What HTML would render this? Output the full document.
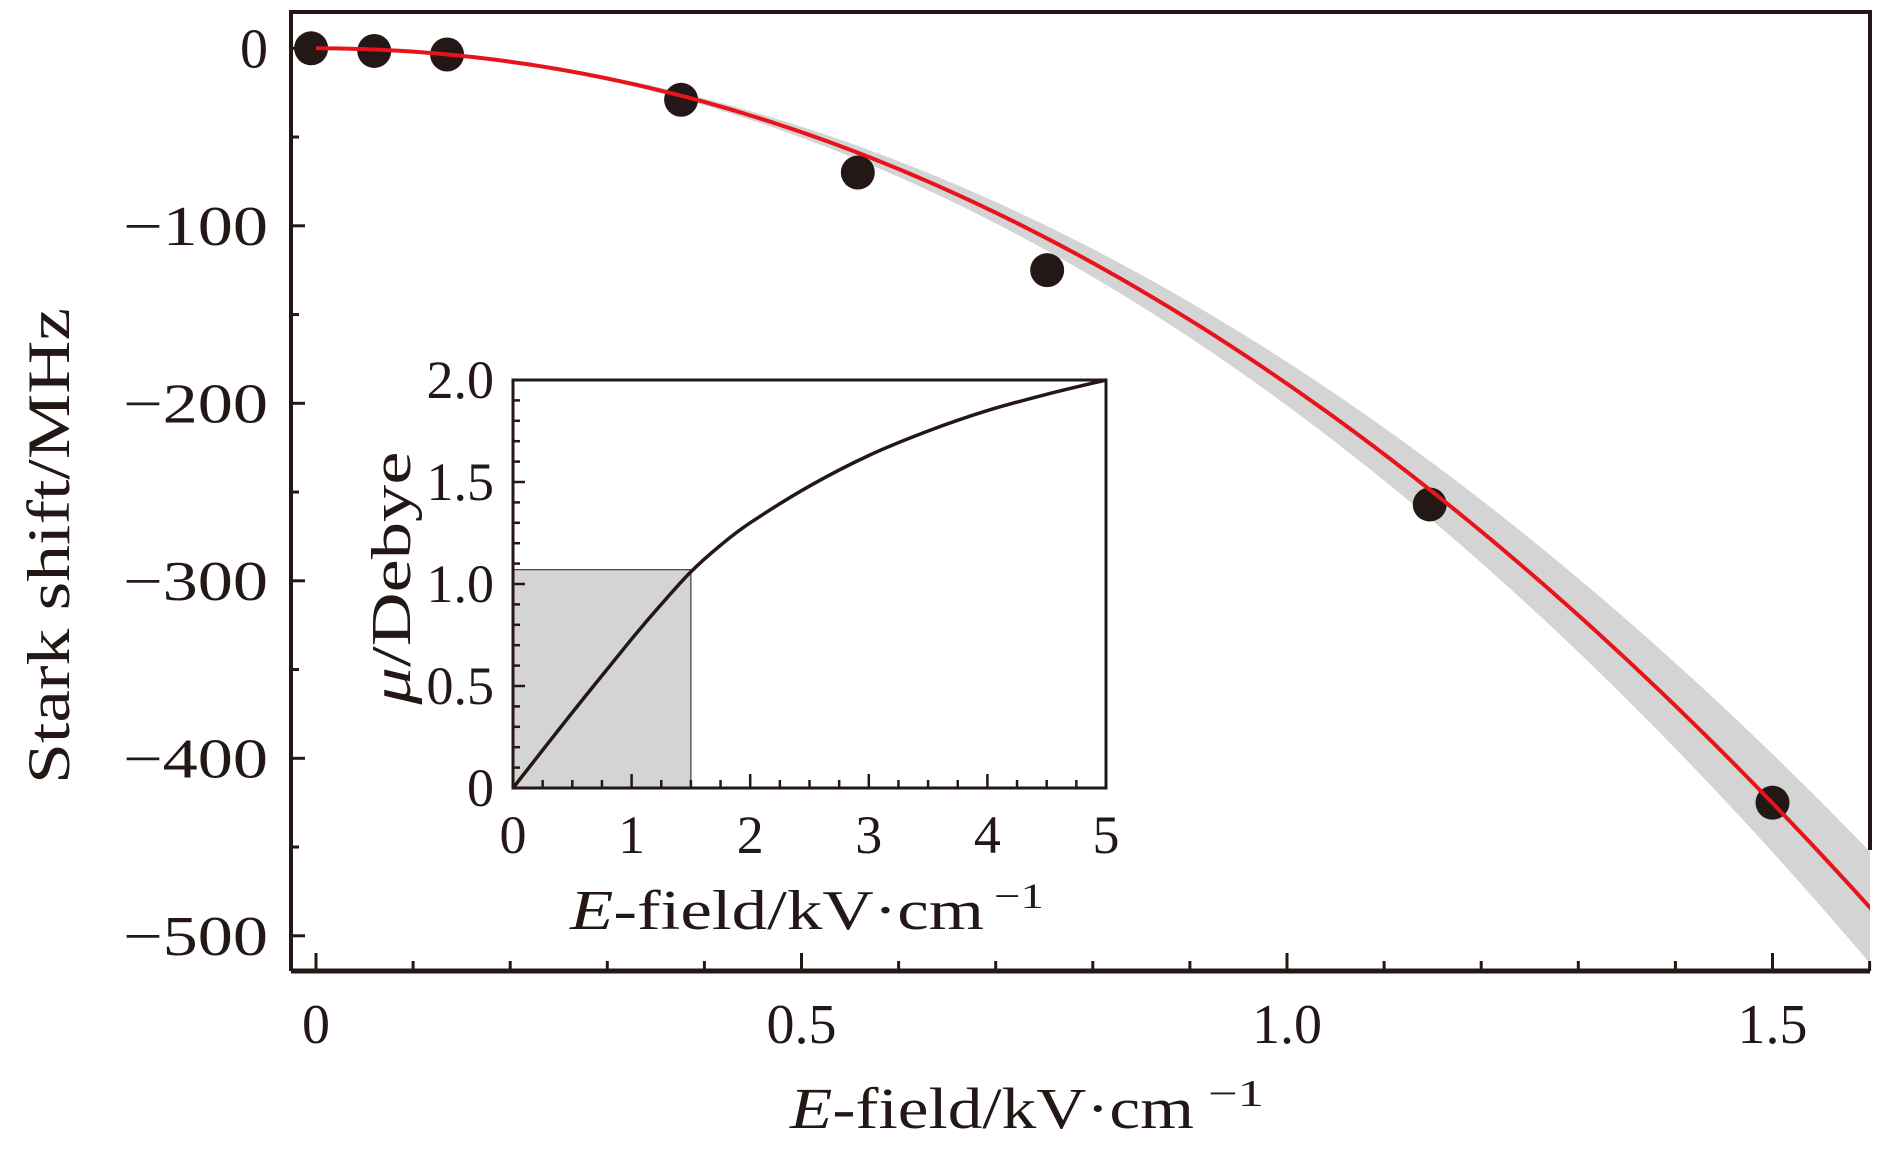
<!DOCTYPE html>
<html><head><meta charset="utf-8"><style>
body{margin:0;background:#fff;}
svg{display:block;font-family:"Liberation Serif",serif;}
</style></head><body>
<svg id="chart" width="1890" height="1158" viewBox="0 0 1890 1158">
<defs><clipPath id="mainClip"><rect x="291" y="12" width="1579" height="959"/></clipPath></defs>
<g id="main"></g>
<g id="inset"></g>
</svg>
<script>
// main chart data
const mainXTicks = [0, 0.5, 1.0, 1.5];
const mainXTickLabels = ["0", "0.5", "1.0", "1.5"];
const mainYTicks = [0, -100, -200, -300, -400, -500];
const mainYTickLabels = ["0", "\u2212100", "\u2212200", "\u2212300", "\u2212400", "\u2212500"];
const fieldValues = [-0.005, 0.06, 0.135, 0.376, 0.558, 0.753, 1.147, 1.5];
const shiftValues = [0, -1.5, -3.5, -29, -70, -125, -257, -425];
const fitCoeff = [-189];          // shift = a * E^2
const bandFraction = [0.065];     // relative uncertainty band
// inset data
const insetXTicks = [0, 1, 2, 3, 4, 5];
const insetYTicks = [0, 0.5, 1.0, 1.5, 2.0];
const insetYTickLabels = ["0", "0.5", "1.0", "1.5", "2.0"];
const insetField = [0, 0.5, 1, 1.25, 1.5, 1.75, 2, 2.5, 3, 3.5, 4, 4.5, 5];
const insetDipole = [0, 0.37, 0.73, 0.90, 1.06, 1.19, 1.30, 1.48, 1.63, 1.75, 1.85, 1.93, 2.0];
const insetShade = [1.5, 1.07];

const NS = "http://www.w3.org/2000/svg";
function mk(parent, tag, attrs, text){
  const e = document.createElementNS(NS, tag);
  for (const k in attrs) e.setAttribute(k, attrs[k]);
  if (text !== undefined) e.textContent = text;
  parent.appendChild(e);
  return e;
}
const INK = '#231816';
// main axes
const L=291, T=12, R=1870, B=971;
const X0=316, XU=971, Y0=48.3, YU=1.775;
const mx = v => X0 + v*XU;
const my = v => Y0 - v*YU;
const main = document.getElementById('main');

// band
let up=[], lo=[];
const fitX=[]; for(let i=0;i<=162;i++) fitX.push(i/100);
fitX.forEach(x=>{const f=fitCoeff[0]*x*x; up.push(mx(x)+','+my(f*(1-bandFraction[0]))); lo.push(mx(x)+','+my(f*(1+bandFraction[0])));});
let band = mk(main,'polygon',{points:up.concat(lo.reverse()).join(' '),fill:'#d4d4d4','clip-path':'url(#mainClip)'});



// frame
let fr = mk(main,'path',{d:`M${L},${B} L${L},${T} L${R},${T} L${R},850`,fill:'none',stroke:INK,'stroke-width':4});


let xa = mk(main,'line',{x1:L,y1:B,x2:R,y2:B,stroke:INK,'stroke-width':5});



// x ticks
for(let i=0;i<=16;i++){const v=i/10; const x=mx(v); const major=(i%5===0);
  const t=mk(main,'line',{x1:x,y1:B,x2:x,y2:B-(major?18:10),stroke:INK,'stroke-width':3});
  
  
}
mainXTicks.forEach((v,i)=>{const t=mk(main,'text',{x:mx(v),y:1043,'font-size':56,'text-anchor':'middle',fill:INK},mainXTickLabels[i]);
  
  });
// y ticks
for(let v=0; v>=-500; v-=50){const y=my(v); const major=(v%100===0);
  const t=mk(main,'line',{x1:L,y1:y,x2:L+(major?14:8),y2:y,stroke:INK,'stroke-width':3});
  
  
}
mainYTicks.forEach((v,i)=>{const a={x:268,y:my(v)+19,'font-size':56,'text-anchor':'end',fill:INK};
  if(mainYTickLabels[i].length>1){a.textLength=145;a.lengthAdjust='spacingAndGlyphs';}
  const t=mk(main,'text',a,mainYTickLabels[i]);
  
  });

// fit curve
const fitPts = fitX.map(x=>mx(x)+','+my(fitCoeff[0]*x*x));
let fc = mk(main,'polyline',{points:fitPts.join(' '),fill:'none',stroke:'#e8141c','stroke-width':4,'clip-path':'url(#mainClip)'});


// points
fieldValues.forEach((v,i)=>{const c=mk(main,'circle',{cx:mx(v),cy:my(shiftValues[i]),r:17,fill:INK});
  
  });
main.appendChild(fc);

let xt = mk(main,'text',{x:790,y:1128,'font-size':58,fill:INK,textLength:404,lengthAdjust:'spacingAndGlyphs'});


xt.innerHTML='<tspan font-style="italic">E</tspan>-field/kV·cm';
let xs = mk(main,'text',{x:1208,y:1106,'font-size':38,fill:INK,textLength:56,lengthAdjust:'spacingAndGlyphs'},'−1');


let yt = mk(main,'text',{x:0,y:0,'font-size':60,'text-anchor':'middle',fill:INK,textLength:476,lengthAdjust:'spacingAndGlyphs',transform:'translate(69,546) rotate(-90)'},'Stark shift/MHz');



// inset
const IL=513, IT=380, IR=1106, IB=788;
const ix = v => IL + v*(IR-IL)/5;
const iy = v => IB - v*(IB-IT)/2;
const inset = document.getElementById('inset');
let sh = mk(inset,'rect',{x:ix(0),y:iy(insetShade[1]),width:ix(insetShade[0])-ix(0),height:iy(0)-iy(insetShade[1]),fill:'#d4d4d4',stroke:INK,'stroke-width':1});


let ib = mk(inset,'rect',{x:IL,y:IT,width:IR-IL,height:IB-IT,fill:'none',stroke:INK,'stroke-width':3});


for(let i=0;i<=20;i++){const x=ix(i/4); const major=(i%4===0);
  const t=mk(inset,'line',{x1:x,y1:IB,x2:x,y2:IB-(major?14:8),stroke:INK,'stroke-width':2.5});
  
  }
for(let i=0;i<=20;i++){const y=iy(i/10); const major=(i%5===0);
  const t=mk(inset,'line',{x1:IL,y1:y,x2:IL+(major?12:7),y2:y,stroke:INK,'stroke-width':2.5});
  
  }
insetXTicks.forEach(v=>{const t=mk(inset,'text',{x:ix(v),y:853,'font-size':54,'text-anchor':'middle',fill:INK},String(v));
  
  });
insetYTicks.forEach((v,i)=>{const t=mk(inset,'text',{x:494,y:iy(v)+18,'font-size':54,'text-anchor':'end',fill:INK},insetYTickLabels[i]);
  
  });
// smooth curve through points (Catmull-Rom)
let d='M'+ix(insetField[0])+','+iy(insetDipole[0]);
for(let i=0;i<insetField.length-1;i++){
  const p0=i>0?i-1:i, p3=i+2<insetField.length?i+2:i+1;
  const x1=insetField[i], y1=insetDipole[i], x2=insetField[i+1], y2=insetDipole[i+1];
  const c1x=x1+(x2-insetField[p0])/6, c1y=y1+(y2-insetDipole[p0])/6;
  const c2x=x2-(insetField[p3]-x1)/6, c2y=y2-(insetDipole[p3]-y1)/6;
  d+=` C${ix(c1x)},${iy(c1y)} ${ix(c2x)},${iy(c2y)} ${ix(x2)},${iy(y2)}`;
}
let ic = mk(inset,'path',{d:d,fill:'none',stroke:INK,'stroke-width':3.5});


let ixt = mk(inset,'text',{x:570,y:929,'font-size':56,fill:INK,textLength:414,lengthAdjust:'spacingAndGlyphs'});


ixt.innerHTML='<tspan font-style="italic">E</tspan>-field/kV·cm';
let ixs = mk(inset,'text',{x:994,y:908,'font-size':36,fill:INK,textLength:50,lengthAdjust:'spacingAndGlyphs'},'−1');


let iyt = mk(inset,'text',{x:0,y:0,'font-size':56,'text-anchor':'middle',fill:INK,textLength:253,lengthAdjust:'spacingAndGlyphs',transform:'translate(410,578) rotate(-90)'});


iyt.innerHTML='<tspan font-style="italic">μ</tspan>/Debye';
</script>
</body></html>
